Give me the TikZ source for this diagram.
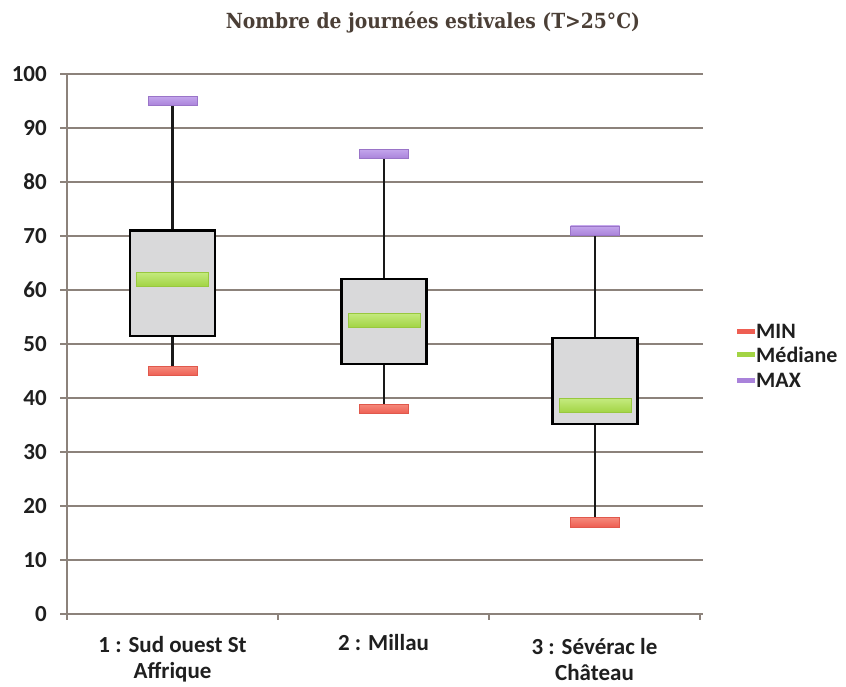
\documentclass[tikz,border=0pt]{standalone}
\usepackage{fontspec}
\setmainfont{Carlito}
\newfontfamily\titlefont{DejaVu Serif Condensed}
\definecolor{gridc}{HTML}{8C827B}
\definecolor{titlec}{HTML}{4B3F36}
\definecolor{boxg}{HTML}{D9D9DA}
\definecolor{medl}{HTML}{C4EA7E}
\definecolor{medm}{HTML}{A2D444}
\definecolor{medd}{HTML}{98C83E}
\definecolor{redl}{HTML}{F58A7C}
\definecolor{redm}{HTML}{EE5E52}
\definecolor{redd}{HTML}{E0584C}
\definecolor{purl}{HTML}{C4A6EC}
\definecolor{purm}{HTML}{A982DA}
\definecolor{purd}{HTML}{9A74C8}
\begin{document}
\begin{tikzpicture}[x=1pt,y=1pt,
  grid/.style={draw=gridc, line width=1.8pt},
  lab/.style={font=\fontsize{23}{26}\selectfont\bfseries, text=black!88, inner sep=0pt},
  leglab/.style={font=\fontsize{22}{24}\selectfont\bfseries, text=black!88, inner sep=0pt, anchor=west},
  boxn/.style={rectangle, draw=black, line width=2.6pt, fill=boxg, inner sep=0pt, minimum width=85pt},
  medbar/.style={rectangle, inner sep=0pt, minimum width=72pt, minimum height=14pt, draw=medd, line width=0.6pt, top color=medl, bottom color=medm},
  minbar/.style={rectangle, inner sep=0pt, minimum width=49pt, minimum height=9.5pt, draw=redd, line width=0.6pt, top color=redl, bottom color=redm},
  maxbar/.style={rectangle, inner sep=0pt, minimum width=49pt, minimum height=9.5pt, draw=purd, line width=0.6pt, top color=purl, bottom color=purm},
  whisk/.style={draw=black!90, line width=2.2pt},
  legbar/.style={rectangle, inner sep=0pt, minimum width=18pt, minimum height=5pt}]
\useasboundingbox (0,0) rectangle (846,686);
\node[font=\titlefont\bfseries\fontsize{20.8}{24}\selectfont, text=titlec, anchor=base, inner sep=0pt] (title) at (433,657) {Nombre de journées estivales (T>25°C)};
\begin{scope}[y=5.4pt, yshift=72pt]
  % grid and axes
  \foreach \v in {0,10,...,100} {
    \draw[grid] (60,\v) -- (703,\v);
    \node[lab, anchor=east] (yl\v) at (47,\v) {\v};
  }
  \draw[grid] (67,100) -- (67,-1.1);
  \foreach \x in {278,489,700} \draw[grid] (\x,0) -- (\x,-1.1);
  % category labels
  \node[lab, align=center] (c1) at (172.5,-8.4) {1 : Sud ouest St\\Affrique};
  \node[lab, align=center] (c2) at (383.5,-8.4) {2 : Millau\\\strut};
  \node[lab, align=center] (c3) at (594.5,-8.4) {3 : Sévérac le\\Château};
  % boxes
  \node[boxn, minimum height=105.3pt] (b1) at (172.5,61.25) {};
  \node[boxn, minimum height=84.8pt] (b2) at (384,54.15) {};
  \node[boxn, minimum height=85.9pt] (b3) at (595,43.15) {};
  % medians
  \node[medbar] (m1) at (172.5,62) {};
  \node[medbar] (m2) at (384,54.4) {};
  \node[medbar] (m3) at (595,38.6) {};
  % min / max
  \node[minbar] (lo1) at (172.5,45) {};
  \node[minbar] (lo2) at (384,38) {};
  \node[minbar] (lo3) at (595,17) {};
  \node[maxbar] (hi1) at (172.5,95) {};
  \node[maxbar] (hi2) at (384,85.2) {};
  \node[maxbar] (hi3) at (595,71) {};
  % whiskers
  \foreach \i in {1,2,3} {
    \draw[whisk] (b\i.north) -- (hi\i.south);
    \draw[whisk] (b\i.south) -- (lo\i.north);
  }
  % legend
  \node[legbar, fill=redm] (lg1) at (746,52.3) {};
  \node[legbar, fill=medm] (lg2) at (746,48.0) {};
  \node[legbar, fill=purm] (lg3) at (746,43.3) {};
  \node[leglab] (lt1) at (756,52.3) {MIN};
  \node[leglab] (lt2) at (756,48.0) {Médiane};
  \node[leglab] (lt3) at (756,43.3) {MAX};
\end{scope}
\end{tikzpicture}
\end{document}
